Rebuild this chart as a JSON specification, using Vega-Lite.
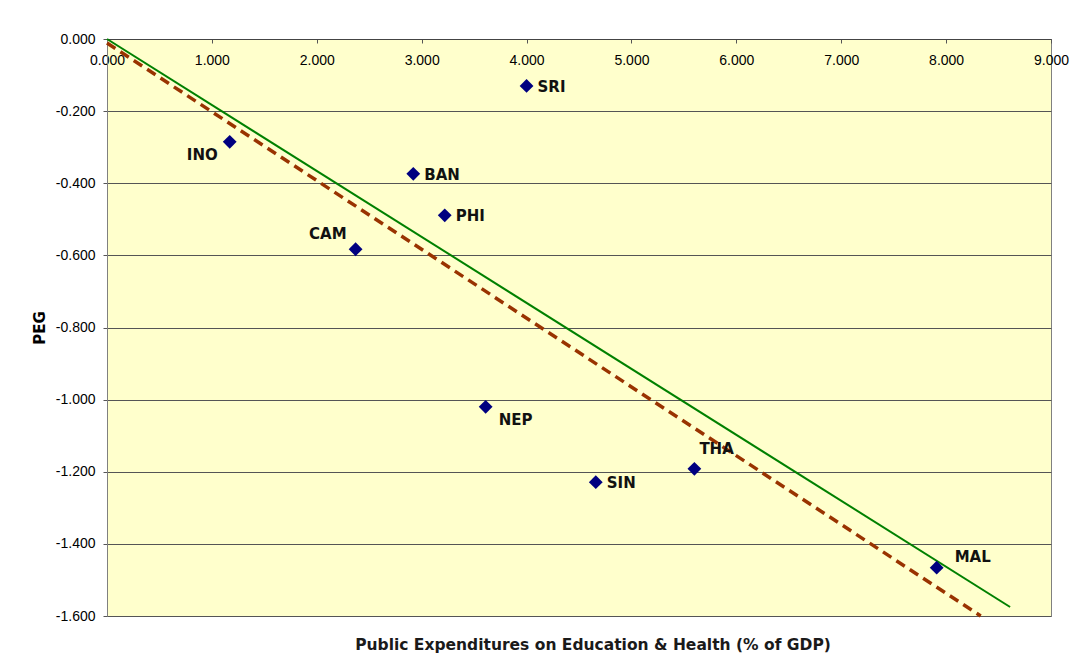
{
  "$schema": "https://vega.github.io/schema/vega-lite/v6.json",
  "autosize": {"type": "none"},
  "width": 944,
  "height": 577,
  "padding": {"left": 107, "top": 39, "right": 20, "bottom": 52},
  "background": "white",
  "config": {
    "view": {"fill": "#FFFFCC", "stroke": "#808080", "strokeWidth": 1},
    "axis": {"labelFont": "Liberation Sans", "labelFontSize": 14, "labelColor": "black", "titleFont": "DejaVu Sans", "titleColor": "black"}
  },
  "title": {"text": "Public Expenditures on Education & Health (% of GDP)", "orient": "bottom", "font": "DejaVu Sans", "fontSize": 15.5, "fontWeight": "bold", "color": "#1a1a1a", "offset": 15, "dx": 14},
  "datasets": {
    "pts": [
      {"country": "SRI", "exp": 4.00, "peg": -0.130},
      {"country": "INO", "exp": 1.17, "peg": -0.285},
      {"country": "BAN", "exp": 2.92, "peg": -0.374},
      {"country": "PHI", "exp": 3.22, "peg": -0.489},
      {"country": "CAM", "exp": 2.37, "peg": -0.583},
      {"country": "NEP", "exp": 3.61, "peg": -1.020},
      {"country": "THA", "exp": 5.60, "peg": -1.192},
      {"country": "SIN", "exp": 4.66, "peg": -1.229},
      {"country": "MAL", "exp": 7.91, "peg": -1.466}
    ],
    "lines": [
      {"series": "fit", "exp": 0, "peg": 0},
      {"series": "fit", "exp": 8.61, "peg": -1.575},
      {"series": "trend", "exp": 0, "peg": -0.011},
      {"series": "trend", "exp": 8.33, "peg": -1.6}
    ]
  },
  "encoding": {
    "x": {"field": "exp", "type": "quantitative",
      "scale": {"domain": [0, 9], "nice": false, "zero": false},
      "axis": {"orient": "bottom", "offset": -577, "title": null, "values": [0,1,2,3,4,5,6,7,8,9], "format": ".3f", "grid": false, "domainColor": "#444444", "tickColor": "#555555", "tickSize": 4, "labelPadding": 10, "labelFlush": false, "labelOverlap": false}},
    "y": {"field": "peg", "type": "quantitative",
      "scale": {"domain": [-1.6, 0], "nice": false, "zero": false},
      "axis": {"title": "PEG", "titleFontSize": 15, "titleFontWeight": "bold", "titlePadding": 8, "values": [0,-0.2,-0.4,-0.6,-0.8,-1.0,-1.2,-1.4,-1.6], "format": ".3f", "labelExpr": "replace(datum.label, '\u2212', '-')", "grid": true, "gridColor": "#555555", "gridWidth": 1, "domainColor": "#808080", "tickColor": "#555555", "tickSize": 4, "labelPadding": 8}}
  },
  "layer": [
    {"data": {"name": "lines"}, "transform": [{"filter": "datum.series == 'fit'"}],
     "mark": {"type": "line", "color": "#008000", "strokeWidth": 2, "clip": false}},
    {"data": {"name": "lines"}, "transform": [{"filter": "datum.series == 'trend'"}],
     "mark": {"type": "line", "color": "#993300", "strokeWidth": 3.5, "strokeDash": [10, 6], "clip": false}},
    {"data": {"name": "pts"},
     "mark": {"type": "point", "shape": "diamond", "filled": true, "color": "#000080", "size": 190, "opacity": 1}},
    {"data": {"name": "pts"}, "transform": [{"filter": "indexof(['SRI','BAN','PHI','SIN'], datum.country) >= 0"}],
     "mark": {"type": "text", "align": "left", "baseline": "middle", "dx": 11, "dy": 1, "font": "DejaVu Sans", "fontSize": 15, "fontWeight": "bold", "color": "#111111"},
     "encoding": {"text": {"field": "country"}}},
    {"data": {"name": "pts"}, "transform": [{"filter": "datum.country == 'NEP'"}],
     "mark": {"type": "text", "align": "left", "baseline": "middle", "dx": 13, "dy": 13, "font": "DejaVu Sans", "fontSize": 15, "fontWeight": "bold", "color": "#111111"},
     "encoding": {"text": {"field": "country"}}},
    {"data": {"name": "pts"}, "transform": [{"filter": "datum.country == 'THA'"}],
     "mark": {"type": "text", "align": "left", "baseline": "middle", "dx": 5, "dy": -20, "font": "DejaVu Sans", "fontSize": 15, "fontWeight": "bold", "color": "#111111"},
     "encoding": {"text": {"field": "country"}}},
    {"data": {"name": "pts"}, "transform": [{"filter": "datum.country == 'MAL'"}],
     "mark": {"type": "text", "align": "left", "baseline": "middle", "dx": 18, "dy": -11, "font": "DejaVu Sans", "fontSize": 15, "fontWeight": "bold", "color": "#111111"},
     "encoding": {"text": {"field": "country"}}},
    {"data": {"name": "pts"}, "transform": [{"filter": "datum.country == 'INO'"}],
     "mark": {"type": "text", "align": "right", "baseline": "middle", "dx": -12, "dy": 13, "font": "DejaVu Sans", "fontSize": 15, "fontWeight": "bold", "color": "#111111"},
     "encoding": {"text": {"field": "country"}}},
    {"data": {"name": "pts"}, "transform": [{"filter": "datum.country == 'CAM'"}],
     "mark": {"type": "text", "align": "right", "baseline": "middle", "dx": -9, "dy": -15, "font": "DejaVu Sans", "fontSize": 15, "fontWeight": "bold", "color": "#111111"},
     "encoding": {"text": {"field": "country"}}}
  ]
}
